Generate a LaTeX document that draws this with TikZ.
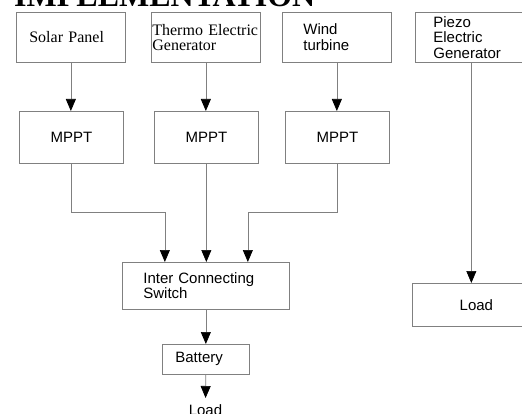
\documentclass[tikz,border=0pt]{standalone}
\usepackage{fontspec}
\setmainfont{Liberation Serif}
\newfontfamily\arialfont{Liberation Sans}
\usetikzlibrary{positioning}
\usetikzlibrary{arrows.meta}

\begin{document}
\begin{tikzpicture}[x=1pt,y=-1pt,
  blk/.style={draw=black!50, line width=0.7pt, anchor=north west, inner ysep=0pt, align=left},
  sansbox/.style={blk, font=\arialfont\fontsize{15}{15.5}\selectfont},
  serifbox/.style={blk, font=\fontsize{16}{15}\selectfont},
  flow/.style={draw=black!50, line width=0.7pt, -{Triangle[black,length=12pt,width=10pt]}}]
\useasboundingbox (0,0) rectangle (522,414);

\node (title) at (14,7) [anchor=base west, inner sep=0pt, font=\bfseries\fontsize{32}{32}\selectfont] {IMPLEMENTATION};

% sources
\node (solar) at (16,12) [serifbox, text width=83pt, inner xsep=13pt, minimum height=50pt] {Solar Panel};
\node (thermo) at (151,12) [serifbox, text width=107pt, inner xsep=1pt, minimum height=50pt] {Thermo Electric\\Generator};
\node (wind) at (282,12) [sansbox, text width=67pt, inner xsep=21pt, minimum height=50pt] {Wind\\turbine};
\node (piezo) at (415,12) [sansbox, text width=76pt, inner xsep=18pt, minimum height=50pt] {Piezo\\Electric\\Generator};

% trackers
\node (mppt1) at (19,111) [sansbox, align=center, minimum width=104pt, minimum height=52pt] {MPPT};
\node (mppt2) at (154,111) [sansbox, align=center, minimum width=104pt, minimum height=52pt] {MPPT};
\node (mppt3) at (285,111) [sansbox, align=center, minimum width=104pt, minimum height=52pt] {MPPT};

\node (switch) at (122,262) [sansbox, text width=125pt, inner xsep=21pt, minimum height=47pt] {Inter Connecting\\Switch};
\node (battery) at (162,344) [sansbox, text width=61pt, inner xsep=13pt, minimum height=30pt] {Battery};
\node (loadb) at (205.5,398) [anchor=north, inner ysep=6pt, font=\arialfont\fontsize{15}{15}\selectfont] {Load};
\node (loadr) at (412,283) [sansbox, align=center, minimum width=128pt, minimum height=43pt] {Load};

\draw[flow] (solar.south) -- (solar.south |- mppt1.north);
\draw[flow] (thermo.south) -- (thermo.south |- mppt2.north);
\draw[flow] (wind.south) -- (wind.south |- mppt3.north);

\draw[flow] (mppt1.south) -- ++(0,49) -| ([xshift=-41pt]switch.north);
\draw[flow] (mppt2.south) -- (mppt2.south |- switch.north);
\draw[flow] (mppt3.south) -- ++(0,49) -| ([xshift=42pt]switch.north);

\draw[flow] (switch) -- (battery);
\draw[flow] (battery) -- (loadb);
\draw[flow] (piezo.south) -- (piezo.south |- loadr.north);

\end{tikzpicture}
\end{document}
